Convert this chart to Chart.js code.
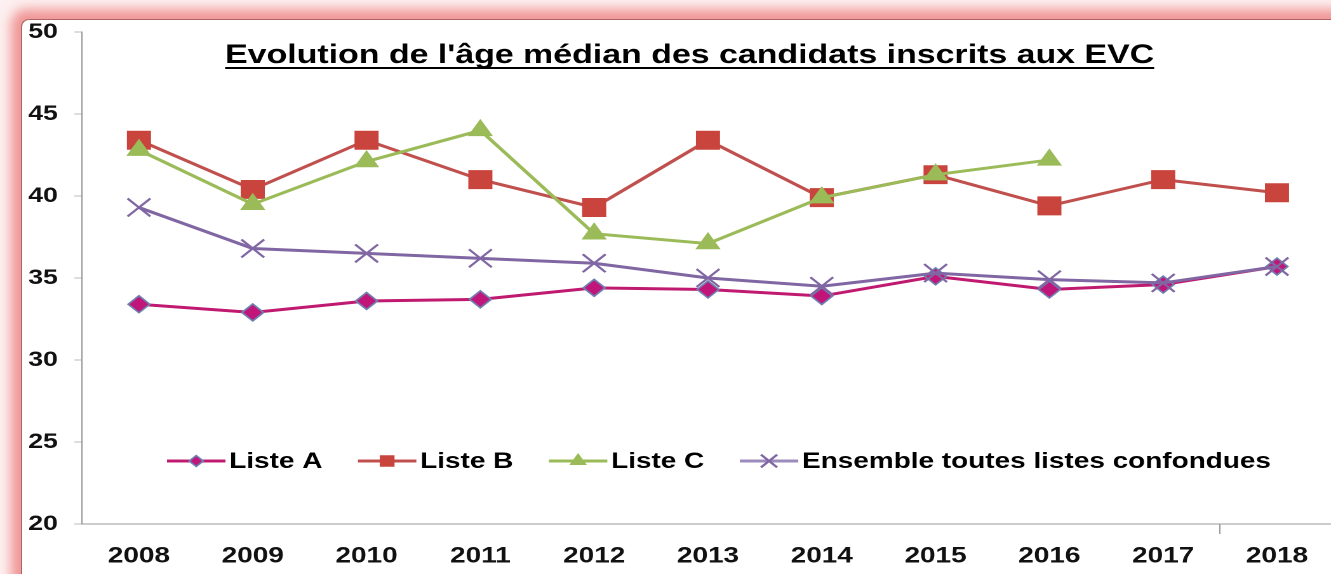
<!DOCTYPE html>
<html>
<head>
<meta charset="utf-8">
<script src="https://cdn.jsdelivr.net/npm/chart.js@4.4.1/dist/chart.umd.min.js"></script>
<style>
  html, body { margin: 0; padding: 0; width: 1331px; height: 574px; overflow: hidden; background: #fdf0f0; }
  #frame {
    position: absolute; left: 21px; top: 19px; width: 1400px; height: 700px;
    background: #fff; border-left: 1px solid #a66; border-top: 1px solid #a66;
    border-top-left-radius: 8px;
    box-shadow: -3px -3px 12px 7px rgba(236, 120, 120, 0.75);
  }
  /* the reference is stretched sideways, so the chart is drawn narrow and widened */
  #wrap { position: absolute; left: 0; top: 0; width: 1065px; height: 574px; transform: scaleX(1.27); transform-origin: 0 0; }
</style>
</head>
<body>
<div id="frame"></div>
<div id="wrap"><canvas id="ageChart" width="1065" height="574"></canvas></div>
<script>
const years = ["2008", "2009", "2010", "2011", "2012", "2013", "2014", "2015", "2016", "2017", "2018"];
const listeA = [33.4, 32.9, 33.6, 33.7, 34.4, 34.3, 33.9, 35.1, 34.3, 34.6, 35.7];
const listeB = [43.4, 40.4, 43.4, 41.0, 39.3, 43.4, 39.9, 41.3, 39.4, 41.0, 40.2];
const listeC = [42.8, 39.5, 42.1, 44.0, 37.7, 37.1, 39.9, 41.3, 42.2, null, null];
const ensemble = [39.3, 36.8, 36.5, 36.2, 35.9, 35.0, 34.5, 35.3, 34.9, 34.7, 35.7];
const yMin = 20, yMax = 50, yStep = 5;
const titleText = "Evolution de l'âge médian des candidats inscrits aux EVC";

const FONT = '"Liberation Sans", Arial, sans-serif';

// title (underlined) and legend are drawn inside the plot area, like the original
const overlayPlugin = {
    id: "overlay",
    afterDraw(chart) {
        const ctx = chart.ctx;
        const area = chart.chartArea;
        ctx.save();

        ctx.font = "bold 26.7px " + FONT;
        ctx.fillStyle = "#000";
        ctx.textAlign = "center";
        ctx.textBaseline = "alphabetic";
        const tx = 543, ty = area.top + 31;
        ctx.fillText(titleText, tx, ty);
        const tw = ctx.measureText(titleText).width;
        ctx.fillRect(tx - tw / 2, ty + 4, tw, 2);

        ctx.font = "bold 22px " + FONT;
        ctx.textAlign = "left";
        ctx.textBaseline = "middle";
        let x = 131.5;
        const y = area.bottom - 63;
        chart.data.datasets.forEach((ds) => {
            ctx.strokeStyle = ds.legendLine;
            ctx.lineWidth = 3;
            ctx.beginPath();
            ctx.moveTo(x, y);
            ctx.lineTo(x + 46, y);
            ctx.stroke();

            ctx.fillStyle = ds.pointBackgroundColor;
            ctx.strokeStyle = ds.pointBorderColor;
            ctx.lineWidth = ds.pointBorderWidth;
            Chart.helpers.drawPoint(ctx, {
                pointStyle: ds.pointStyle,
                radius: ds.legendRadius,
                borderWidth: ds.pointBorderWidth,
                rotation: 0,
            }, x + 23, y);

            ctx.fillStyle = "#000";
            ctx.fillText(ds.label, x + 49, y + 1);
            x += 49 + ctx.measureText(ds.label).width + 28;
        });
        ctx.restore();
    },
};

new Chart(document.getElementById("ageChart").getContext("2d"), {
    type: "line",
    data: {
        labels: years,
        datasets: [{
            label: "Liste A",
            data: listeA,
            borderColor: "#c01a70",
            borderWidth: 3,
            pointStyle: "rectRot",
            pointRadius: 8.5,
            pointBackgroundColor: "#c0167a",
            pointBorderColor: "#6f80b0",
            pointBorderWidth: 1.5,
            legendRadius: 5.5,
            legendLine: "#c01a70",
            order: 3,
        }, {
            label: "Liste B",
            data: listeB,
            borderColor: "#c0504d",
            borderWidth: 3,
            pointStyle: "rect",
            pointRadius: 12.7,
            pointBackgroundColor: "#c9443d",
            pointBorderColor: "#c9443d",
            pointBorderWidth: 1,
            legendRadius: 7.5,
            legendLine: "#c0504d",
            order: 2,
        }, {
            label: "Liste C",
            data: listeC,
            borderColor: "#9bbb59",
            borderWidth: 3,
            pointStyle: "triangle",
            pointRadius: 10.5,
            pointBackgroundColor: "#9bbb59",
            pointBorderColor: "#9bbb59",
            pointBorderWidth: 1,
            legendRadius: 7,
            legendLine: "#9bbb59",
            order: 1,
        }, {
            label: "Ensemble toutes listes confondues",
            data: ensemble,
            borderColor: "#8067a3",
            borderWidth: 3,
            pointStyle: "crossRot",
            pointRadius: 12.7,
            pointBackgroundColor: "#8067a3",
            pointBorderColor: "#8067a3",
            pointBorderWidth: 2,
            legendRadius: 9,
            legendLine: "#9c8cbc",
            order: 0,
        }],
    },
    options: {
        responsive: false,
        animation: false,
        devicePixelRatio: 2,
        layout: { padding: { top: 32, right: 6, left: 0, bottom: 0 } },
        plugins: {
            legend: { display: false },
            title: { display: false },
            tooltip: { enabled: false },
        },
        elements: { line: { tension: 0 } },
        scales: {
            x: {
                offset: true,
                grid: {
                    display: true,
                    drawOnChartArea: false,
                    offset: true,
                    tickLength: 10,
                    // only the 2017|2018 tick mark shows in the original
                    color: (c) => (c.index === 10 ? "#999" : "rgba(0,0,0,0)"),
                },
                border: { color: "#999", width: 1 },
                ticks: { color: "#111", padding: 9, font: { family: FONT, size: 22, weight: "bold" }, maxRotation: 0 },
                afterFit(scale) { scale.height = 50; },
            },
            y: {
                min: yMin,
                max: yMax,
                ticks: { stepSize: yStep, color: "#111", padding: 13, font: { family: FONT, size: 21, weight: "bold" } },
                grid: { display: true, drawOnChartArea: false, tickLength: 6, color: "#bbb" },
                border: { color: "#999", width: 1 },
                afterFit(scale) { scale.width = 64.6; },
            },
        },
    },
    plugins: [overlayPlugin],
});
</script>
</body>
</html>
